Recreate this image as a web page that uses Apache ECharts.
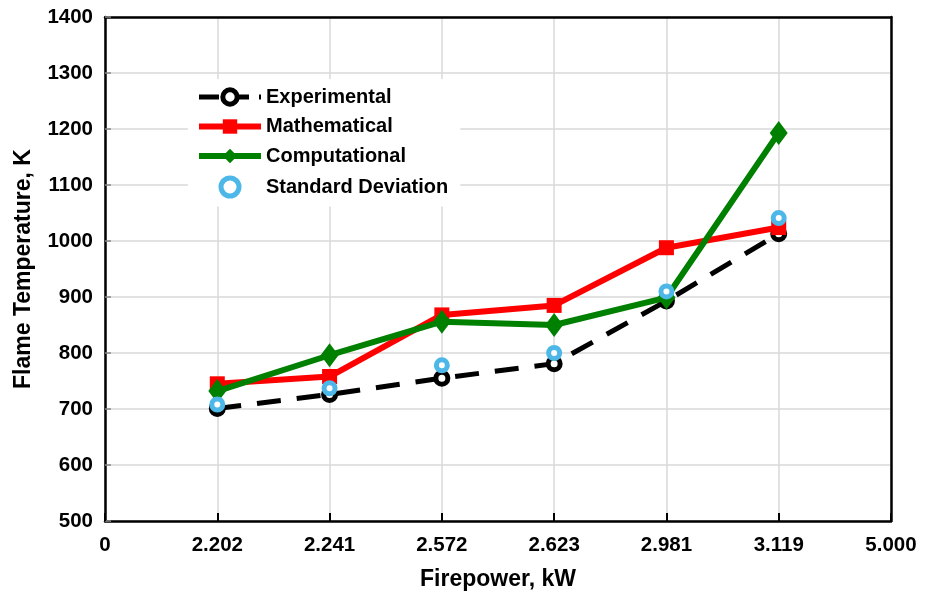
<!DOCTYPE html>
<html>
<head>
<meta charset="utf-8">
<script src="https://cdn.jsdelivr.net/npm/echarts@6/dist/echarts.min.js"></script>
<style>
  html, body { margin: 0; padding: 0; background: #fff; }
  #chart { width: 930px; height: 596px; }
</style>
</head>
<body>
<div id="chart"></div>
<script>
const firepower = ['0', '2.202', '2.241', '2.572', '2.623', '2.981', '3.119', '5.000']
const experimental = [701, 726, 755, 781, 893, 1013]
const mathematical = [745, 758, 868, 885, 988, 1024]
const computational = [732, 796, 856, 850, 899, 1193]
const standardDeviation = [708, 737, 778, 800, 910, 1041]

// first and last category are empty axis ends
function pad(values) {
  return [null].concat(values, [null])
}

const font = 'Liberation Sans, Arial, sans-serif'
const blue = '#4db8e8'
const chart = echarts.init(document.getElementById('chart'))

// top / right frame, drawn as plain axis lines so they sit above the grid lines
const frameAxis = {
  axisLine: { show: true, onZero: false, lineStyle: { color: '#000', width: 2.5 } },
  axisTick: { show: false },
  axisLabel: { show: false },
  splitLine: { show: false }
}

const option = {
  animation: false,
  backgroundColor: '#fff',
  grid: {
    left: 105,
    right: 39,
    top: 17,
    bottom: 74
  },
  legend: {
    orient: 'vertical',
    left: 188,
    top: 79,
    itemWidth: 62,
    itemHeight: 18,
    itemGap: 9.5,
    backgroundColor: '#fff',
    padding: [8, 12, 8, 8],
    textStyle: { fontFamily: font, fontWeight: 'bold', fontSize: 20, color: '#000' },
    data: [
      {
        name: 'Experimental',
        lineStyle: { color: '#000', width: 5, type: 'dashed' },
        itemStyle: { color: '#fff', borderColor: '#000', borderWidth: 5 }
      },
      { name: 'Mathematical', lineStyle: { color: '#ff0000', width: 6 } },
      { name: 'Computational', lineStyle: { color: '#008000', width: 6 } },
      {
        name: 'Standard Deviation',
        itemStyle: { color: '#fff', borderColor: blue, borderWidth: 5 }
      }
    ]
  },
  xAxis: [
    {
      type: 'category',
      data: firepower,
      boundaryGap: false,
      name: 'Firepower, kW',
      nameLocation: 'middle',
      nameGap: 47,
      nameTextStyle: { fontFamily: font, fontWeight: 'bold', fontSize: 23, color: '#000' },
      axisLine: { lineStyle: { color: '#000', width: 2.5 } },
      axisTick: { inside: true, length: 8, alignWithLabel: true, lineStyle: { color: '#000', width: 2 } },
      axisLabel: { interval: 0, margin: 14, fontFamily: font, fontWeight: 'bold', fontSize: 20.5, color: '#000' },
      splitLine: { show: true, lineStyle: { color: '#d9d9d9', width: 1.5 } }
    },
    Object.assign({ type: 'category', position: 'top', data: firepower, boundaryGap: false }, frameAxis)
  ],
  yAxis: [
    {
      type: 'value',
      min: 500,
      max: 1400,
      interval: 100,
      name: 'Flame Temperature, K',
      nameLocation: 'middle',
      nameGap: 70,
      nameTextStyle: { fontFamily: font, fontWeight: 'bold', fontSize: 23, color: '#000' },
      axisLine: { show: true, lineStyle: { color: '#000', width: 2.5 } },
      axisTick: { show: true, inside: true, length: 6, lineStyle: { color: '#888', width: 1.5 } },
      axisLabel: {
        margin: 12,
        fontFamily: font,
        fontWeight: 'bold',
        fontSize: 20.5,
        color: '#000',
        formatter: v => String(v)
      },
      splitLine: { show: true, lineStyle: { color: '#d9d9d9', width: 1.5 } }
    },
    Object.assign({ type: 'value', position: 'right', min: 500, max: 1400, interval: 100 }, frameAxis)
  ],
  series: [
    {
      name: 'Experimental',
      type: 'line',
      data: pad(experimental),
      symbol: 'circle',
      symbolSize: 12,
      itemStyle: { color: '#fff', borderColor: '#000', borderWidth: 5 },
      lineStyle: { color: '#000', width: 5, type: [24, 16] },
      z: 2
    },
    {
      name: 'Mathematical',
      type: 'line',
      data: pad(mathematical),
      symbol: 'rect',
      symbolSize: 15,
      itemStyle: { color: '#ff0000' },
      lineStyle: { color: '#ff0000', width: 6 },
      z: 3
    },
    {
      name: 'Computational',
      type: 'line',
      data: pad(computational),
      symbol: 'diamond',
      symbolSize: [18, 24],
      itemStyle: { color: '#008000' },
      lineStyle: { color: '#008000', width: 6 },
      z: 4
    },
    {
      name: 'Standard Deviation',
      type: 'scatter',
      data: pad(standardDeviation),
      symbol: 'circle',
      symbolSize: 11,
      itemStyle: { color: '#fff', borderColor: blue, borderWidth: 5, opacity: 1 },
      z: 5
    }
  ]
}

chart.setOption(option)
</script>
</body>
</html>
